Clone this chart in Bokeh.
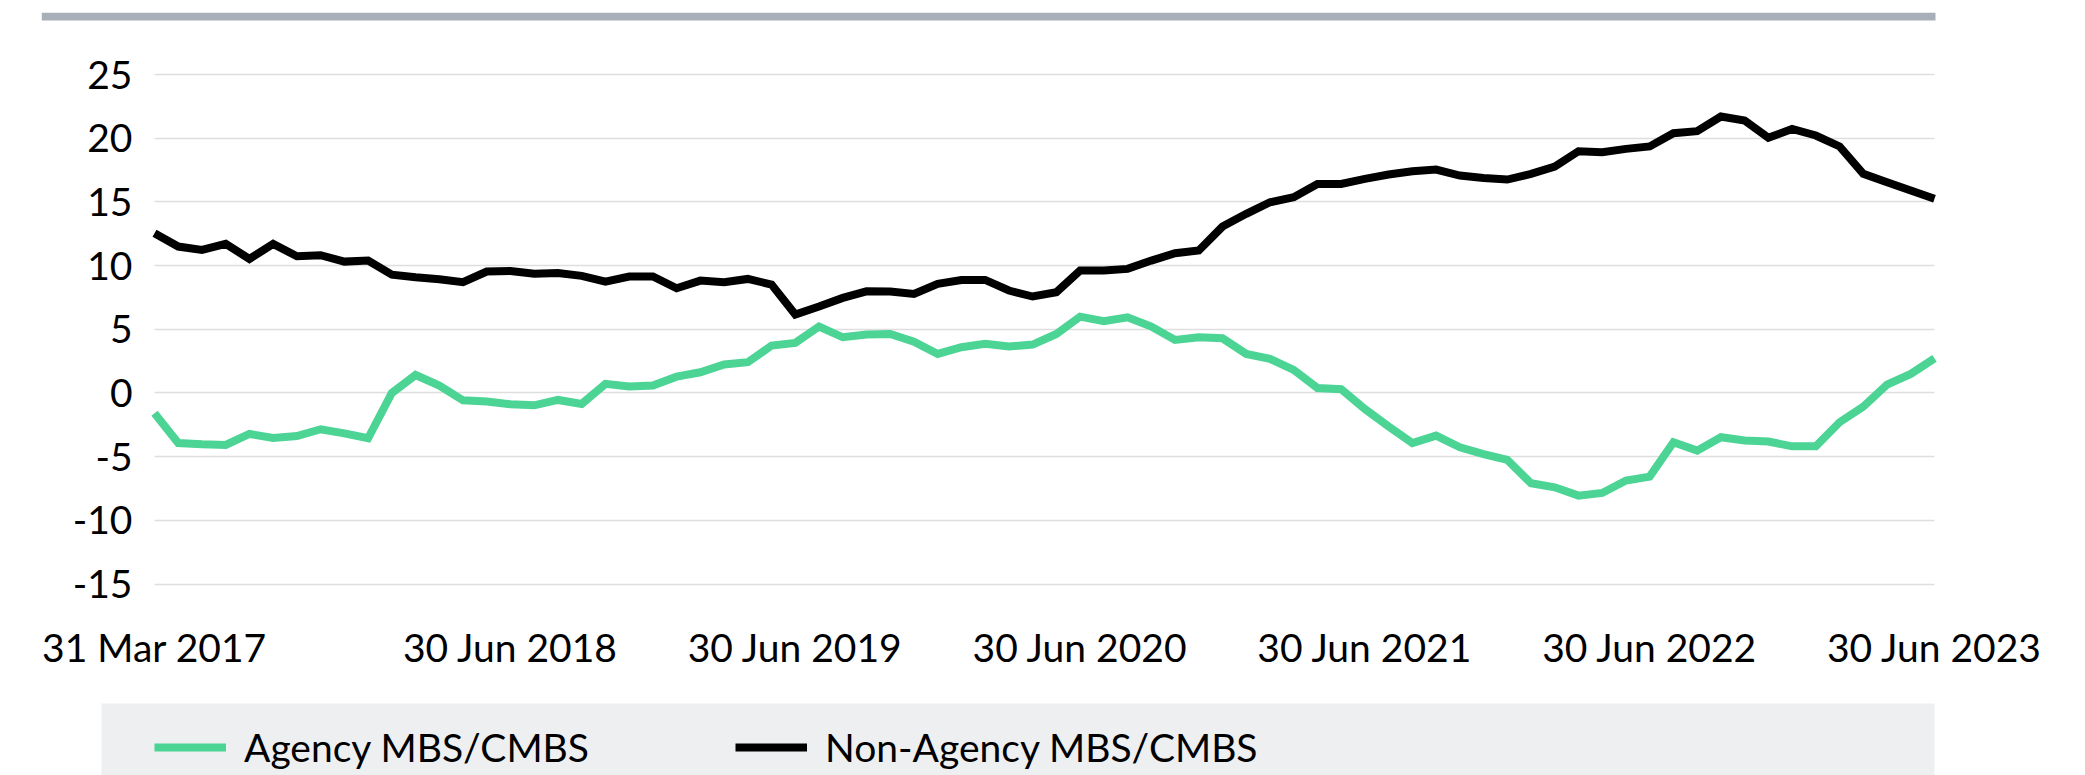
import pandas as pd
from bokeh.plotting import figure
from bokeh.models import FixedTicker, Legend, LegendItem, Range1d, BoxAnnotation
from bokeh.embed import file_html
from bokeh.resources import INLINE

# ---------------- data ----------------
months = [str(m) for m in pd.period_range("2017-03", "2023-06", freq="M")]  # month ends, 76 points

agency = [-1.60, -3.93, -4.03, -4.08, -3.22, -3.53, -3.38, -2.85, -3.17, -3.56,
          0.00, 1.41, 0.58, -0.58, -0.68, -0.89, -0.97, -0.55, -0.86,
          0.71, 0.50, 0.58, 1.28, 1.62, 2.23, 2.41, 3.72, 3.93, 5.21,
          4.37, 4.58, 4.63, 4.03, 3.06, 3.59, 3.85, 3.64, 3.80,
          4.63, 5.99, 5.63, 5.94, 5.21, 4.16, 4.37, 4.29, 3.06, 2.67,
          1.81, 0.39, 0.29, -1.26, -2.64, -3.93, -3.35, -4.27, -4.80,
          -5.26, -7.09, -7.41, -8.06, -7.85, -6.88, -6.57, -3.87, -4.53,
          -3.48, -3.74, -3.82, -4.19, -4.19, -2.30, -1.07, 0.65, 1.49, 2.72]

non_agency = [12.54, 11.49, 11.23, 11.70, 10.52, 11.70, 10.73, 10.81, 10.31, 10.39,
              9.29, 9.08, 8.93, 8.69, 9.53, 9.58, 9.35, 9.42, 9.19,
              8.74, 9.14, 9.14, 8.22, 8.82, 8.69, 8.95, 8.51, 6.15, 6.78,
              7.46, 7.98, 7.96, 7.77, 8.56, 8.87, 8.87, 8.04, 7.57,
              7.91, 9.61, 9.61, 9.74, 10.39, 10.97, 11.18, 13.06, 14.06, 14.97,
              15.37, 16.41, 16.41, 16.81, 17.15, 17.41, 17.54, 17.07, 16.88,
              16.75, 17.20, 17.77, 18.98, 18.90, 19.16, 19.35, 20.39, 20.55,
              21.70, 21.39, 20.03, 20.73, 20.21, 19.35, 17.20, 16.54, 15.89, 15.24]

series_names = ["Agency MBS/CMBS", "Non-Agency MBS/CMBS"]

x_tick_idx = [0, 15, 27, 39, 51, 63, 75]
x_tick_labels = ["31 Mar 2017", "30 Jun 2018", "30 Jun 2019", "30 Jun 2020",
                 "30 Jun 2021", "30 Jun 2022", "30 Jun 2023"]
y_ticks = [25, 20, 15, 10, 5, 0, -5, -10, -15]

# ---------------- style / layout (page pixels) ----------------
GREEN = "#4cd495"
BLACK = "#000000"
FONT = "Lato"
FSIZE = "39px"
W, H = 2085, 775
FL, FR, FT, FB = 41, 2085, 12, 775          # frame = whole decorated area
DECO_R = 1935                                # right end of grey rule / legend strip
DATA_L, DATA_R = 154, 1934                   # where first / last month sit
Y_TOP_PX, Y_BOT_PX = 74, 583.5               # pixel rows of 25 and -15
AXIS_PX = 600                                # row of the (invisible) x axis

n = len(months)
xppu = (DATA_R - DATA_L) / (n - 1)
yppu = (Y_BOT_PX - Y_TOP_PX) / (y_ticks[0] - y_ticks[-1])
x0 = 0 - (DATA_L - FL) / xppu
x1 = (n - 1) + (FR - DATA_R) / xppu
y1 = y_ticks[0] + (Y_TOP_PX - FT) / yppu
y0 = y_ticks[-1] - (FB - Y_BOT_PX) / yppu
x_axis_at = y_ticks[-1] - (AXIS_PX - Y_BOT_PX) / yppu

x = list(range(n))

p = figure(width=W, height=H, output_backend="svg", toolbar_location=None,
           x_range=Range1d(x0, x1), y_range=Range1d(y0, y1),
           min_border_left=FL, min_border_right=W - FR,
           min_border_top=FT, min_border_bottom=H - FB,
           outline_line_color=None, border_fill_color="white",
           background_fill_color="white")

# top grey rule (8 px tall) and legend strip
p.add_layout(BoxAnnotation(right=DECO_R - FL, right_units="screen",
                           bottom=FB - 20, bottom_units="screen",
                           fill_color="#a8afb9", fill_alpha=1, line_color=None,
                           level="underlay"))
p.add_layout(BoxAnnotation(left=101 - FL, left_units="screen",
                           right=DECO_R - 1 - FL, right_units="screen",
                           top=FB - 703, top_units="screen",
                           fill_color="#eeeff1", fill_alpha=1, line_color=None,
                           level="underlay"))

p.xgrid.visible = False
g = p.ygrid[0]
g.ticker = FixedTicker(ticks=y_ticks)
g.grid_line_color = "#dedede"
g.grid_line_width = 1.5
if "cross_bounds" in g.properties():
    g.cross_bounds = (0, n - 1)

p.yaxis.ticker = FixedTicker(ticks=y_ticks)
p.yaxis.major_label_overrides = {v: str(v) for v in y_ticks}
p.yaxis.fixed_location = 0
p.xaxis.ticker = FixedTicker(ticks=x_tick_idx)
p.xaxis.major_label_overrides = {i: lab for i, lab in zip(x_tick_idx, x_tick_labels)}
p.xaxis.fixed_location = x_axis_at

for ax in (p.xaxis, p.yaxis):
    ax.axis_line_color = None
    ax.major_tick_line_color = None
    ax.minor_tick_line_color = None
    ax.major_tick_in = 0
    ax.major_tick_out = 0
    ax.minor_tick_in = 0
    ax.minor_tick_out = 0
    ax.major_label_text_font = FONT
    ax.major_label_text_font_size = FSIZE
    ax.major_label_text_color = "#000000"
p.yaxis.major_label_standoff = 22
p.xaxis.major_label_standoff = 23

r_ag = p.line(x, agency, line_color=GREEN, line_width=8, line_join="miter")
r_na = p.line(x, non_agency, line_color=BLACK, line_width=8, line_join="miter")

# legend: two single-item legends placed in the grey strip
for r, name, lx in ((r_ag, series_names[0], 154 - FL), (r_na, series_names[1], 735 - FL)):
    leg = Legend(items=[LegendItem(label=name, renderers=[r])],
                 location=(lx, FB - 747 - 30),
                 orientation="horizontal", padding=0, margin=0, spacing=0,
                 glyph_width=72, glyph_height=60, label_height=60, label_standoff=18,
                 label_text_font=FONT, label_text_font_size=FSIZE,
                 label_text_color="#000000",
                 background_fill_alpha=0, border_line_color=None)
    p.add_layout(leg)

open("out.html", "w").write(file_html(p, INLINE))
